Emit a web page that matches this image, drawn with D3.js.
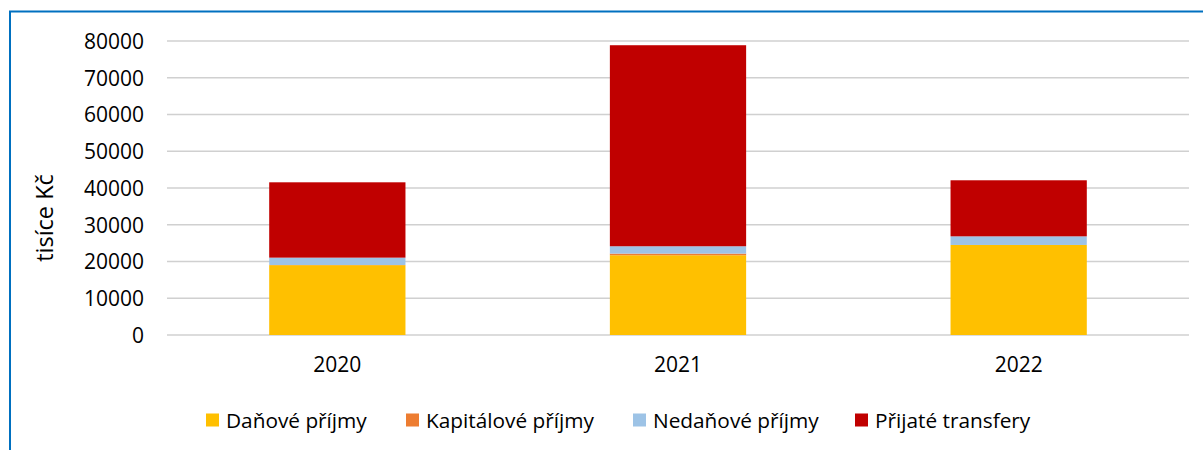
<!DOCTYPE html>
<html>
<head>
<meta charset="utf-8">
<script src="https://cdn.jsdelivr.net/npm/d3@7"></script>
<style>
  html, body { margin: 0; padding: 0; background: #fff; }
  svg { display: block; }
  text { font-family: "Open Sans", "Noto Sans", sans-serif; fill: #000; }
</style>
</head>
<body>
<svg id="chart" width="1203" height="450"></svg>
<script>
const years = ["2020", "2021", "2022"];
const seriesNames = ["Daňové příjmy", "Kapitálové příjmy", "Nedaňové příjmy", "Přijaté transfery"];
const seriesColors = ["#FFC000", "#ED7D31", "#9DC3E6", "#C00000"];
const danove = [19000, 21700, 24500];
const kapitalove = [50, 450, 0];
const nedanove = [2000, 2000, 2350];
const transfery = [20500, 54700, 15250];
const yTicks = [0, 10000, 20000, 30000, 40000, 50000, 60000, 70000, 80000];
const yTitle = "tisíce Kč";

const seriesValues = [danove, kapitalove, nedanove, transfery];
const rows = years.map((y, i) => {
  const r = { year: y };
  seriesNames.forEach((s, k) => r[s] = seriesValues[k][i]);
  return r;
});
const stacked = d3.stack().keys(seriesNames)(rows);

const svg = d3.select("#chart");
const margin = { left: 167, right: 14, top: 41, bottom: 115 };
const W = 1203, H = 450;

// frame
svg.append("rect")
  .attr("x", 10).attr("y", 11.5)
  .attr("width", 1300).attr("height", 600)
  .attr("fill", "none").attr("stroke", "#0070C0").attr("stroke-width", 2);

const x = d3.scaleBand().domain(years)
  .range([margin.left, W - margin.right])
  .paddingInner(0.6).paddingOuter(0.3);
const y = d3.scaleLinear().domain([0, 80000]).range([335, 41]);

// gridlines
svg.append("g").selectAll("line").data(yTicks).join("line")
  .attr("x1", margin.left).attr("x2", W - margin.right)
  .attr("y1", d => y(d)).attr("y2", d => y(d))
  .attr("stroke", "#d0d0d0").attr("stroke-width", 1.6);

// y axis labels
const yAxis = d3.axisLeft(y).tickValues(yTicks).tickSize(0).tickPadding(0).tickFormat(d3.format("d"));
const ga = svg.append("g").attr("transform", "translate(144,0)").call(yAxis);
ga.select(".domain").remove();
ga.selectAll("text").attr("font-size", 21).attr("font-family", "Open Sans").attr("fill", "#000").attr("dy", "0.35em");

// bars
svg.append("g").selectAll("g").data(stacked).join("g")
  .attr("fill", (d, i) => seriesColors[i])
  .selectAll("rect").data(d => d).join("rect")
  .attr("x", d => x(d.data.year))
  .attr("width", x.bandwidth())
  .attr("y", d => y(d[1]))
  .attr("height", d => Math.max(0, y(d[0]) - y(d[1])));

// x axis labels
const xAxis = d3.axisBottom(x).tickSize(0).tickPadding(0);
const gx = svg.append("g").attr("transform", "translate(0,372)").call(xAxis);
gx.select(".domain").remove();
gx.selectAll("text").attr("font-size", 21).attr("font-family", "Open Sans").attr("fill", "#000").attr("dy", 0);

// y title
svg.append("text")
  .attr("transform", "translate(53,218) rotate(-90)")
  .attr("text-anchor", "middle")
  .attr("font-size", 23.5)
  .text(yTitle);

// legend
const legendX = [206, 406, 633, 855];
const lg = svg.append("g").selectAll("g").data(seriesNames).join("g")
  .attr("transform", (d, i) => `translate(${legendX[i]},0)`);
lg.append("rect").attr("x", 0).attr("y", 413.5).attr("width", 13).attr("height", 13)
  .attr("fill", (d, i) => seriesColors[i]);
lg.append("text").attr("x", 20).attr("y", 427.5).attr("font-size", 20.8).text(d => d);
</script>
</body>
</html>
